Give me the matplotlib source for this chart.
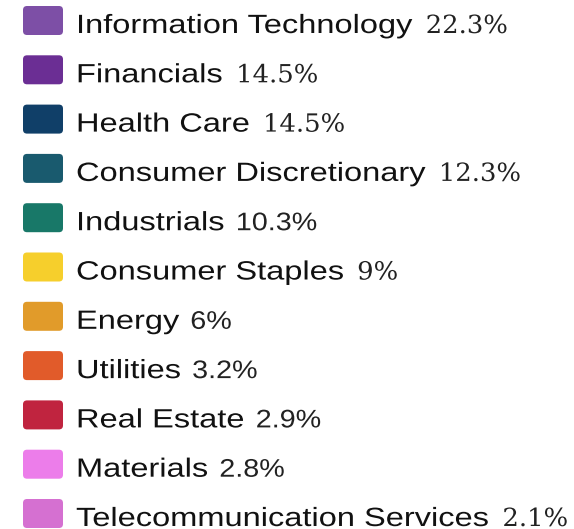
import matplotlib
matplotlib.use("Agg")
import matplotlib.pyplot as plt
from matplotlib.patches import FancyBboxPatch
from matplotlib.patheffects import AbstractPathEffect, PathEffectRenderer
from matplotlib.transforms import Affine2D

sectors = ["Information Technology", "Financials", "Health Care",
           "Consumer Discretionary", "Industrials", "Consumer Staples",
           "Energy", "Utilities", "Real Estate", "Materials",
           "Telecommunication Services"]
weights = ["22.3%", "14.5%", "14.5%", "12.3%", "10.3%", "9%",
           "6%", "3.2%", "2.9%", "2.8%", "2.1%"]
serif_pct = [True, True, True, True, False, True,
             False, False, False, False, True]
colors = ["#7d4fa6", "#6b2e94", "#103f68", "#195a6e", "#187868", "#f6cf2c",
          "#e19b2a", "#e15b2a", "#c0243f", "#ec7dea", "#d570d1"]


class Stretch(AbstractPathEffect):
    # the reference glyphs are wider than the font, stretch them sideways
    def __init__(self, sx):
        super().__init__()
        self.sx = sx

    def draw_path(self, renderer, gc, tpath, affine, rgbFace=None):
        if isinstance(renderer, PathEffectRenderer):
            renderer = renderer._renderer
        renderer.draw_path(gc, tpath, Affine2D().scale(self.sx, 1) + affine, rgbFace)


W, H = 574, 529
fig = plt.figure(figsize=(W / 100, H / 100), dpi=100, facecolor="white")
ax = fig.add_axes([0, 0, 1, 1])
ax.set_xlim(0, W)
ax.set_ylim(H, 0)
ax.axis("off")

row0, step = 20.5, 49.3
fig.canvas.draw()
renderer = fig.canvas.get_renderer()

label_sx = 1.235
for i, (name, pct, col) in enumerate(zip(sectors, weights, colors)):
    yc = row0 + i * step
    ax.add_patch(FancyBboxPatch((24, yc - 13.5), 38, 27,
                                boxstyle="round,pad=1,rounding_size=4",
                                fc=col, ec="none"))
    t = ax.text(76, yc + 12.5, name, fontsize=19, family="Liberation Sans",
                color="#111111", va="baseline", ha="left",
                path_effects=[Stretch(label_sx)])
    x1 = 76 + label_sx * t.get_window_extent(renderer).width
    if serif_pct[i]:
        ax.text(x1 + 13, yc + 12.5, pct, fontsize=18, family="DejaVu Serif",
                color="#222222", va="baseline", ha="left",
                path_effects=[Stretch(1.035)])
    else:
        ax.text(x1 + 11, yc + 12.5, pct, fontsize=18.3, family="Liberation Sans",
                color="#222222", va="baseline", ha="left",
                path_effects=[Stretch(1.13)])

fig.savefig("out.png", dpi=100, facecolor="white")
